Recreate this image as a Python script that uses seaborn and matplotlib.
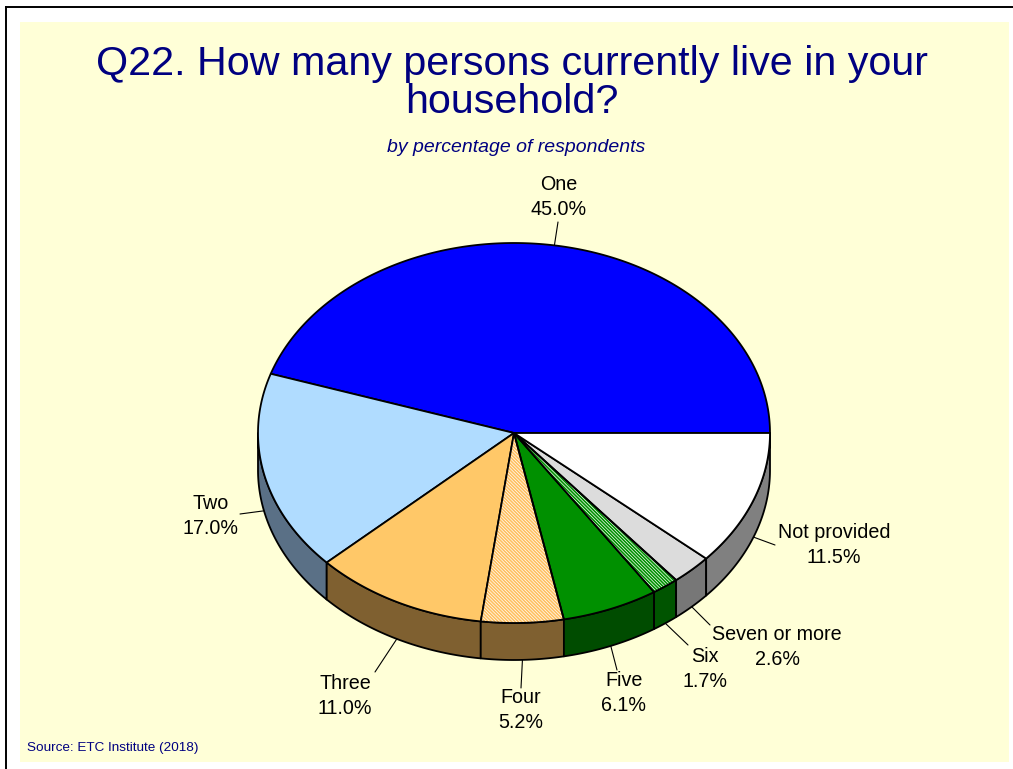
import numpy as np
import pandas as pd
import seaborn as sns
import matplotlib
matplotlib.use("Agg")
import matplotlib.pyplot as plt
from matplotlib.patches import Polygon, Rectangle

# ---- data ---------------------------------------------------------------
categories = ["One", "Two", "Three", "Four", "Five", "Six", "Seven or more", "Not provided"]
percents = [45.0, 17.0, 11.0, 5.2, 6.1, 1.7, 2.6, 11.5]

title = "Q22. How many persons currently live in your\nhousehold?"
subtitle = "by percentage of respondents"
source = "Source: ETC Institute (2018)"

# ---- styles -------------------------------------------------------------
DENSE = "\\" * 10
top_colors = ["#0000FF", "#B0DCFF", "#FFC868", "#FFFFFF", "#009000", "#FFFFFF", "#DCDCDC", "#FFFFFF"]
side_colors = ["#00007F", "#5A7086", "#7F6030", "#7F6030", "#004C00", "#005400", "#777777", "#808080"]
hatches = [None, None, None, DENSE, None, DENSE, None, None]
hatch_colors = [None, None, None, "#FFC060", None, "#009000", None, None]

# label text centres and leader-line ends (figure pixels)
label_pos = [(559, 197), (211, 516), (345, 696), (521, 710), (624, 693),
             (705, 669), (777, 647), (834, 545)]
leader_end = [(558, 222), (240, 514), (375, 672), (521, 688), (617, 670),
              (688, 645), (710, 625), (775, 545)]
LINE_GAP = 24.5  # distance between the name line and the percentage line

# pie geometry
CX, CY, RX, RY, DEPTH = 514, 433, 256, 190, 37

sns.set_theme(style="white")
plt.rcParams["font.family"] = ["Liberation Sans", "DejaVu Sans"]
plt.rcParams["hatch.linewidth"] = 1.2

df = pd.DataFrame({"category": categories, "pct": percents})
df["share"] = df["pct"] / df["pct"].sum()
df["end"] = 360 * df["share"].cumsum()
df["start"] = df["end"] - 360 * df["share"]

fig = plt.figure(figsize=(10.13, 7.69), dpi=100)
fig.patch.set_facecolor("white")
ax = fig.add_axes([0, 0, 1, 1])
ax.set_xlim(0, 1013)
ax.set_ylim(769, 0)
ax.axis("off")

# slide background and frame
ax.add_patch(Rectangle((20, 22), 989, 740, facecolor="#FFFFD7", edgecolor="none", zorder=0))
ax.plot([5, 1013], [6.5, 6.5], color="black", lw=1.4, zorder=1, solid_capstyle="butt")
ax.plot([5.5, 5.5], [6, 769], color="black", lw=1.4, zorder=1, solid_capstyle="butt")


def ellipse_pts(t0, t1, dy=0.0, n=None):
    if n is None:
        n = max(3, int(abs(t1 - t0) * 2) + 2)
    t = np.radians(np.linspace(t0, t1, n))
    return np.column_stack([CX + RX * np.cos(t), CY - RY * np.sin(t) + dy])


EDGE_LW = 1.3

# front side walls (visible for angles between 180 and 360)
for i, row in df.iterrows():
    a0, a1 = max(row["start"], 180), min(row["end"], 360)
    if a1 <= a0:
        continue
    top = ellipse_pts(a0, a1)
    bot = ellipse_pts(a1, a0, dy=DEPTH)
    ax.add_patch(Polygon(np.vstack([top, bot]), closed=True, facecolor=side_colors[i],
                         edgecolor="black", lw=EDGE_LW, joinstyle="round", zorder=2))

# top faces
for i, row in df.iterrows():
    arc = ellipse_pts(row["start"], row["end"])
    pts = np.vstack([[CX, CY], arc])
    if hatches[i]:
        ax.add_patch(Polygon(pts, closed=True, facecolor=top_colors[i],
                             edgecolor=hatch_colors[i], lw=0, hatch=hatches[i], zorder=3))
        ax.add_patch(Polygon(pts, closed=True, fill=False, edgecolor="black",
                             lw=EDGE_LW, joinstyle="round", zorder=4))
    else:
        ax.add_patch(Polygon(pts, closed=True, facecolor=top_colors[i], edgecolor="black",
                             lw=EDGE_LW, joinstyle="round", zorder=3))

# leader lines and labels
for i, row in df.iterrows():
    mid = np.radians((row["start"] + row["end"]) / 2)
    sx = CX + RX * np.cos(mid)
    sy = CY - RY * np.sin(mid)
    if np.sin(mid) < 0:
        sy += DEPTH
    ex, ey = leader_end[i]
    ax.plot([sx, ex], [sy, ey], color="black", lw=0.8, zorder=5)
    lx, ly = label_pos[i]
    ax.text(lx, ly - LINE_GAP / 2, row["category"], ha="center", va="center",
            fontsize=14.2, color="black", zorder=6)
    ax.text(lx, ly + LINE_GAP / 2, f"{row['pct']:.1f}%", ha="center", va="center",
            fontsize=14.2, color="black", zorder=6)

# titles
ax.text(512, 83, title, ha="center", va="center", fontsize=29.7, color="#000080",
        linespacing=1.0, zorder=6)
ax.text(516, 147, subtitle, ha="center", va="center", fontsize=14, style="italic",
        color="#000080", zorder=6)
ax.text(27, 748, source, ha="left", va="center", fontsize=9.7, color="#000080", zorder=6)

fig.savefig("out.png", dpi=100, facecolor=fig.get_facecolor())
